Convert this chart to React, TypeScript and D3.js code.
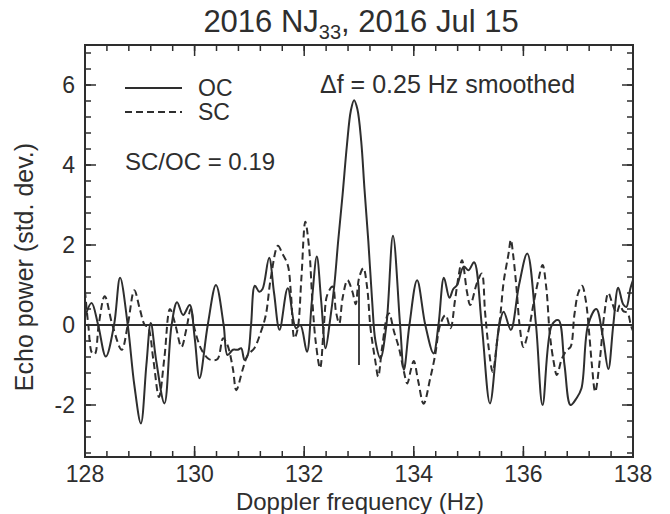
import React from 'react';
import * as d3 from 'd3';

// OC (solid) curve: frequency (Hz) and echo power (std. dev.)
const ocFreq = [
  128.0, 128.12, 128.24, 128.38, 128.53, 128.64, 128.78, 128.9, 129.02, 129.12,
  129.2, 129.3, 129.45, 129.58, 129.68, 129.79, 129.91, 130.0, 130.09, 130.24,
  130.39, 130.53, 130.6, 130.7, 130.79, 130.85, 130.91, 130.97, 131.03, 131.1,
  131.18, 131.24, 131.36, 131.45, 131.55, 131.7, 131.85, 131.93, 132.05, 132.14,
  132.23, 132.31, 132.39, 132.47, 132.55, 132.62, 132.7, 132.78, 132.85, 132.91,
  132.97, 133.04, 133.1, 133.17, 133.24, 133.3, 133.39, 133.5, 133.62, 133.75,
  133.82, 133.92, 134.06, 134.21, 134.36, 134.45, 134.55, 134.65, 134.72, 134.79,
  134.91, 135.0, 135.1, 135.24, 135.39, 135.56, 135.64, 135.77, 135.92, 136.07,
  136.23, 136.35, 136.52, 136.64, 136.75, 136.86, 136.97, 137.06, 137.18, 137.33,
  137.45, 137.55, 137.64, 137.73, 137.82, 137.88, 137.95, 138.0,
];
const ocPower = [
  0.2, 0.55, 0.0, -0.79, 0.0, 1.18, 0.0, -1.5, -2.46, -1.0,
  0.05, -0.9, -1.96, 0.0, 0.57, 0.25, 0.5, -0.3, -1.33, 0.0,
  1.0, 0.0, -0.75, -0.62, -0.62, -0.58, -0.87, -0.75, 0.0, 0.98,
  0.83, 0.9, 1.68, 0.8, -0.12, 0.92, -0.08, 0.0, -0.67, 0.6,
  1.71, 0.6, -0.58, 0.1, 1.0, 2.1, 3.25, 4.5, 5.35, 5.62,
  5.4, 4.6, 3.4, 2.1, 0.6, -0.4, -0.83, 0.0, 2.23, 0.0,
  -1.12, 0.0, 1.12, 0.0, -0.71, 0.0, 1.18, 0.68, 0.9, 1.0,
  1.46, 1.37, 1.57, 0.0, -1.96, 0.0, 0.33, -0.12, 1.0, 1.79,
  0.0, -2.0, 0.0, 0.12, -1.0, -2.0, -1.83, -1.58, 0.0, 0.4,
  -0.3, -1.1, 0.0, 0.93, 0.52, 0.45, 0.9, 1.12,
];

// SC (dashed) curve
const scFreq = [
  128.0, 128.06, 128.13, 128.18, 128.25, 128.36, 128.5, 128.67, 128.78, 128.9,
  129.0, 129.09, 129.15, 129.25, 129.35, 129.45, 129.55, 129.65, 129.76, 129.85,
  129.93, 130.0, 130.12, 130.24, 130.32, 130.42, 130.52, 130.6, 130.7, 130.76,
  130.88, 130.97, 131.09, 131.21, 131.3, 131.39, 131.52, 131.6, 131.7, 131.76,
  131.82, 131.88, 131.95, 132.02, 132.09, 132.15, 132.21, 132.29, 132.36, 132.42,
  132.52, 132.58, 132.64, 132.7, 132.79, 132.88, 132.94, 133.0, 133.08, 133.15,
  133.21, 133.3, 133.35, 133.42, 133.52, 133.55, 133.64, 133.73, 133.82, 133.88,
  133.95, 134.0, 134.08, 134.18, 134.3, 134.39, 134.48, 134.58, 134.67, 134.75,
  134.82, 134.88, 134.97, 135.03, 135.15, 135.24, 135.3, 135.36, 135.44, 135.52,
  135.58, 135.64, 135.73, 135.77, 135.82, 135.88, 135.93, 136.0, 136.1, 136.18,
  136.27, 136.35, 136.42, 136.48, 136.55, 136.61, 136.7, 136.79, 136.86, 136.93,
  137.0, 137.07, 137.14, 137.2, 137.25, 137.31, 137.4, 137.47, 137.55, 137.62,
  137.7, 137.76, 137.82, 137.9, 137.96, 138.0,
];
const scPower = [
  0.85, 0.0, -0.7, -0.72, 0.0, 0.72, 0.0, -0.62, 0.0, 0.87,
  0.4, 0.0, -0.05, -0.9, -1.8, -0.8, 0.4, 0.0, -0.55, -0.1,
  0.4, -0.1, -0.6, -0.83, -0.88, -0.85, -0.33, -0.5, -1.1, -1.63,
  -1.1, -0.75, -0.58, -0.17, 0.25, 1.17, 1.98, 1.79, 1.5, 0.75,
  -0.33, -0.1, 1.2, 2.58, 1.92, 0.58, -0.42, -1.08, 0.0, 0.75,
  0.96, 0.33, 0.04, 0.67, 1.12, 0.83, 0.52, 1.17, 1.42, 0.92,
  -0.08, -0.92, -1.29, -0.58, 0.25, 0.29, -0.17, -0.58, -1.17, -1.46,
  -1.1, -0.9, -1.4, -1.97, -1.33, -0.75, 0.0, 0.25, -0.08, 0.6,
  1.25, 1.62, 0.83, 0.5, 1.04, 1.29, 0.33, -0.5, -1.17, -0.4,
  0.25, 1.08, 1.79, 2.13, 1.67, 0.83, 0.0, -0.55, -0.1, 0.5,
  1.1, 1.5, 0.9, -0.2, -0.9, -1.25, -0.85, -0.63, -0.55, 0.25,
  0.8, 0.98, 0.6, -0.2, -1.0, -1.67, -0.8, 0.2, 0.8, 0.55,
  0.3, 0.5, 0.35, 0.3, 0.0, -0.15,
];

const xTicks = [128, 130, 132, 134, 136, 138];
const yTicks = [-2, 0, 2, 4, 6];
const markerFreq = 133;
const markerRange = [-1, 1];

const legendItems = ['OC', 'SC'];
const ratioText = 'SC/OC = 0.19';
const resolutionText = '\u0394f = 0.25 Hz smoothed';

const App = () => {
  const width = 670;
  const height = 514;
  const margin = { top: 45, right: 37, bottom: 57, left: 85 };
  const innerWidth = width - margin.left - margin.right;
  const innerHeight = height - margin.top - margin.bottom;

  const x = d3.scaleLinear().domain([128, 138]).range([0, innerWidth]);
  const y = d3.scaleLinear().domain([-3.3, 7]).range([innerHeight, 0]);

  const line = d3.line<[number, number]>()
    .x(d => x(d[0]))
    .y(d => y(d[1]))
    .curve(d3.curveCatmullRom.alpha(0.5));

  const ocPath = line(ocFreq.map((f, i) => [f, ocPower[i]])) || '';
  const scPath = line(scFreq.map((f, i) => [f, scPower[i]])) || '';

  const xMinor = d3.range(128, 138.001, 0.4);
  const yMinor = d3.range(-3.2, 7, 0.4);

  const ink = '#2e2e2e';
  const font = '"Liberation Sans", Arial, sans-serif';

  return (
    <svg width={width} height={height} style={{ position: 'absolute', left: 0, top: 0 }} fontFamily={font}>
      <rect width={width} height={height} fill="#fff" />
      <text x={361} y={32} textAnchor="middle" fontSize={31} fill={ink}>
        2016 NJ<tspan dy={7} fontSize={20}>33</tspan><tspan dy={-7}>, 2016 Jul 15</tspan>
      </text>

      <g transform={`translate(${margin.left},${margin.top})`}>
        <defs>
          <clipPath id="plot-clip">
            <rect width={innerWidth} height={innerHeight} />
          </clipPath>
        </defs>

        {/* minor and major ticks on all four sides, pointing in */}
        {xMinor.map(v => (
          <g key={'xm' + v}>
            <line x1={x(v)} x2={x(v)} y1={innerHeight} y2={innerHeight - 6} stroke={ink} strokeWidth={1.5} />
            <line x1={x(v)} x2={x(v)} y1={0} y2={6} stroke={ink} strokeWidth={1.5} />
          </g>
        ))}
        {xTicks.map(v => (
          <g key={'xt' + v}>
            <line x1={x(v)} x2={x(v)} y1={innerHeight} y2={innerHeight - 11} stroke={ink} strokeWidth={1.5} />
            <line x1={x(v)} x2={x(v)} y1={0} y2={11} stroke={ink} strokeWidth={1.5} />
            <text x={x(v)} y={innerHeight + 25} textAnchor="middle" fontSize={23} fill={ink}>{v}</text>
          </g>
        ))}
        {yMinor.map(v => (
          <g key={'ym' + v}>
            <line x1={0} x2={6} y1={y(v)} y2={y(v)} stroke={ink} strokeWidth={1.5} />
            <line x1={innerWidth} x2={innerWidth - 6} y1={y(v)} y2={y(v)} stroke={ink} strokeWidth={1.5} />
          </g>
        ))}
        {yTicks.map(v => (
          <g key={'yt' + v}>
            <line x1={0} x2={11} y1={y(v)} y2={y(v)} stroke={ink} strokeWidth={1.5} />
            <line x1={innerWidth} x2={innerWidth - 11} y1={y(v)} y2={y(v)} stroke={ink} strokeWidth={1.5} />
            <text x={-10} y={y(v) + 8} textAnchor="end" fontSize={23} fill={ink}>{v}</text>
          </g>
        ))}

        <g clipPath="url(#plot-clip)">
          <line x1={0} x2={innerWidth} y1={y(0)} y2={y(0)} stroke={ink} strokeWidth={2} />
          <line x1={x(markerFreq)} x2={x(markerFreq)} y1={y(markerRange[0])} y2={y(markerRange[1])} stroke={ink} strokeWidth={1.8} />
          <path d={scPath} fill="none" stroke={ink} strokeWidth={2} strokeDasharray="7,4" />
          <path d={ocPath} fill="none" stroke={ink} strokeWidth={2} />
        </g>

        <rect width={innerWidth} height={innerHeight} fill="none" stroke={ink} strokeWidth={2} />

        {/* legend */}
        {legendItems.map((name, i) => (
          <g key={name} transform={`translate(0,${43 + i * 24})`}>
            <line x1={40} x2={97} y1={0} y2={0} stroke={ink} strokeWidth={2} strokeDasharray={i === 1 ? '7,4' : undefined} />
            <text x={113} y={8} fontSize={23} fill={ink}>{name}</text>
          </g>
        ))}
        <text x={40} y={125} fontSize={24} fill={ink}>{ratioText}</text>
        <text x={235} y={48} fontSize={25} fill={ink}>{resolutionText}</text>
      </g>

      <text x={360} y={510} textAnchor="middle" fontSize={24} fill={ink}>Doppler frequency (Hz)</text>
      <text transform={`translate(33,267) rotate(-90)`} textAnchor="middle" fontSize={25} fill={ink}>Echo power (std. dev.)</text>
    </svg>
  );
};

export default App;
